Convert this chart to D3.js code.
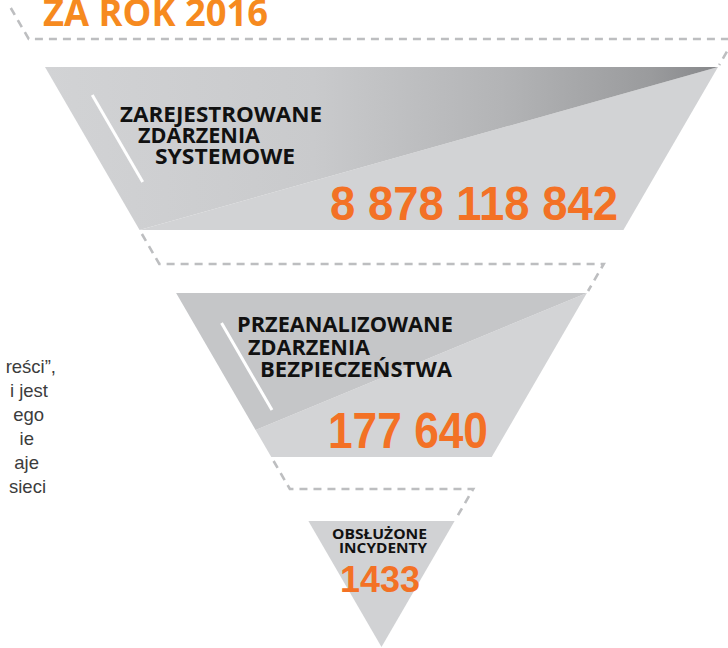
<!DOCTYPE html>
<html><head><meta charset="utf-8">
<script src="https://cdn.jsdelivr.net/npm/d3@7"></script>
<style>html,body{margin:0;padding:0;background:#fff;overflow:hidden}</style>
</head><body><svg id="c" width="728" height="648"></svg>
<script>
// ---- data ----
const titleText = "ZA ROK 2016";
const stageLabels = [
  ["ZAREJESTROWANE", "ZDARZENIA", "SYSTEMOWE"],
  ["PRZEANALIZOWANE", "ZDARZENIA", "BEZPIECZEŃSTWA"],
  ["OBSŁUŻONE", "INCYDENTY"]
];
const stageValues = [8878118842, 177640, 1433];
const sideText = ["reści”,", "i jest", "ego", "ie", "aje", "sieci"];

// ---- layout ----
const svg = d3.select("#c");
const cx = 381.5;
const half = d3.scaleLinear().domain([67, 647]).range([336.5, 0]);
const L = y => cx - half(y), R = y => cx + half(y);
const bands = [[67, 230], [293, 457], [521, 647]];
const connectors = [[4, 39, 67], [230, 264, 293], [457, 489, 521]];

const plFmt = d3.formatLocale({decimal: ",", thousands: "\u00a0", grouping: [3]}).format(",d");
const fmtVal = v => v >= 10000 ? plFmt(v).replace(/\u00a0/g, " ") : String(v);

const defs = svg.append("defs");
const grad = defs.append("linearGradient").attr("id", "g1")
  .attr("gradientUnits", "userSpaceOnUse")
  .attr("x1", L(67)).attr("x2", R(67)).attr("y1", 0).attr("y2", 0);
[[0, "#d2d3d5"], [0.4, "#c9cacc"], [0.68, "#b3b4b6"], [0.9, "#9a9b9d"], [1, "#86878a"]]
  .forEach(([o, c]) => grad.append("stop").attr("offset", o).attr("stop-color", c));

const line = d3.line();
const poly = (pts, fill) => svg.append("path").attr("d", line(pts) + "Z").attr("fill", fill);

// stage 1
{
  const [a, b] = bands[0];
  poly([[R(a), a], [R(b), b], [L(b), b]], "#d2d3d5");
  poly([[L(a), a], [R(a), a], [L(b), b]], "url(#g1)");
}
// stage 2
{
  const [a, b] = bands[1];
  const s = 430;
  poly([[R(a), a], [R(b), b], [L(b), b], [L(s), s]], "#d3d4d6");
  poly([[L(a), a], [R(a), a], [L(s), s]], "#c5c6c8");
}
// stage 3
{
  const [a, b] = bands[2];
  poly([[L(a), a], [R(a), a], [cx, b]], "#d1d2d4");
}

// dashed connectors
connectors.forEach(([f, h, t]) => {
  svg.append("path")
    .attr("d", line([[L(f + 4), f + 4], [L(h), h], [R(h), h], [R(t - 2), t - 2]]))
    .attr("fill", "none").attr("stroke", "#bdbec0").attr("stroke-width", 2.6)
    .attr("stroke-dasharray", "8,6");
});

// white accent lines
[[95, 182, 31], [323, 410, 28]].forEach(([y1, y2, off]) => {
  svg.append("line").attr("x1", L(y1) + off).attr("y1", y1)
    .attr("x2", L(y2) + off).attr("y2", y2)
    .attr("stroke", "#fff").attr("stroke-width", 3);
});

// title
svg.append("text").text(titleText)
  .attr("x", 43).attr("y", 26)
  .attr("font-family", "'Open Sans', sans-serif").attr("font-weight", 700)
  .attr("font-size", 38).attr("fill", "#f68a1f")
  .attr("textLength", 225).attr("lengthAdjust", "spacingAndGlyphs");

// stage labels
const labelPos = [
  {xs: [120, 138, 155], ys: [122, 143, 164], ws: [202, 122, 140], fs: 22},
  {xs: [237, 248, 260], ys: [332, 355, 377], ws: [216, 122, 192], fs: 21.5},
  {xs: [332, 339], ys: [539, 553], ws: [95, 88], fs: 14.5}
];
stageLabels.forEach((lines, i) => {
  const p = labelPos[i];
  lines.forEach((t, j) => {
    svg.append("text").text(t)
      .attr("x", p.xs[j]).attr("y", p.ys[j])
      .attr("font-family", "'Open Sans', sans-serif").attr("font-weight", 700)
      .attr("font-size", p.fs).attr("fill", "#111")
      .attr("textLength", p.ws[j]).attr("lengthAdjust", "spacingAndGlyphs");
  });
});

// values
const valPos = [
  {x: 330, y: 220, w: 288, fs: 49},
  {x: 328, y: 448, w: 160, fs: 50},
  {x: 340, y: 592, w: 80, fs: 37}
];
stageValues.forEach((v, i) => {
  const p = valPos[i];
  svg.append("text").text(fmtVal(v))
    .attr("x", p.x).attr("y", p.y)
    .attr("font-family", "'Liberation Sans', Arial, sans-serif").attr("font-weight", 700)
    .attr("font-size", p.fs).attr("fill", "#f37125")
    .attr("textLength", p.w).attr("lengthAdjust", "spacingAndGlyphs");
});

// side paragraph fragment
const sideX = [56, 48, 44, 34, 39, 46];
sideText.forEach((t, i) => {
  svg.append("text").text(t)
    .attr("x", sideX[i]).attr("y", 373 + i * 24)
    .attr("text-anchor", "end")
    .attr("font-family", "'Liberation Sans', Arial, sans-serif")
    .attr("font-size", 18.5).attr("fill", "#3c3c3c");
});
</script></body></html>
